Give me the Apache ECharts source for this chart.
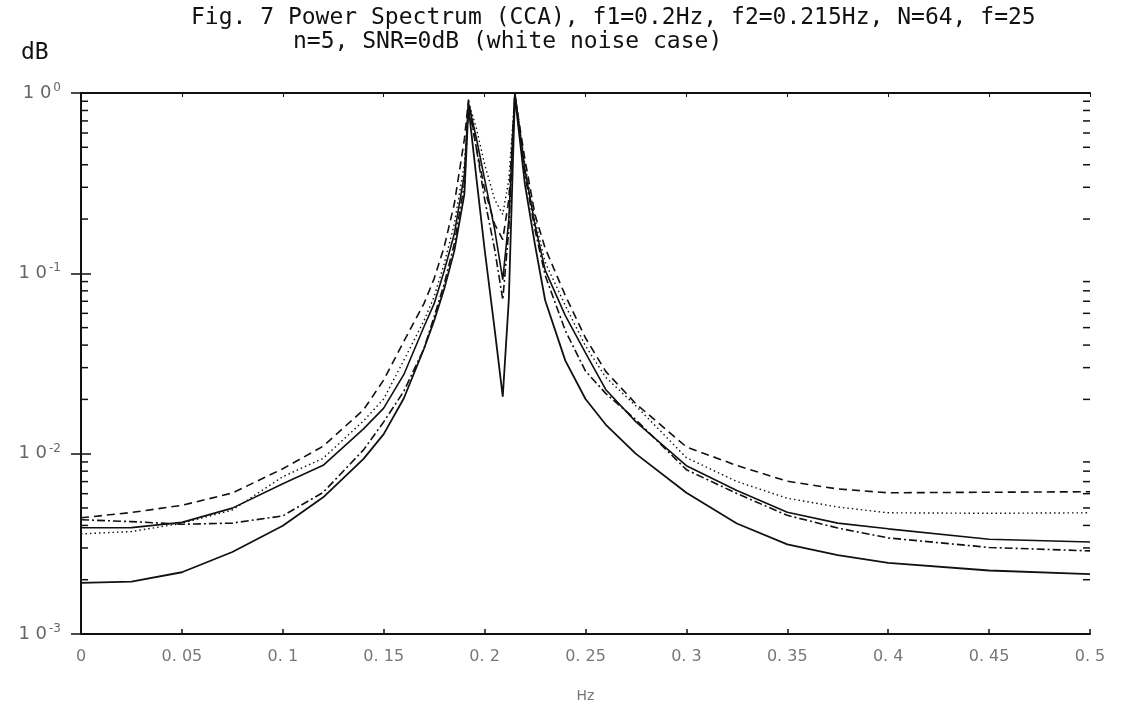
<!DOCTYPE html>
<html>
<head>
<meta charset="utf-8">
<script src="https://cdn.jsdelivr.net/npm/echarts@6/dist/echarts.min.js"></script>
<style>
html,body{margin:0;padding:0;background:#fff;}
#chart{width:1123px;height:717px;}
</style>
</head>
<body>
<div id="chart"></div>
<script>
// ---- data ----
const freq = [0,0.025,0.05,0.075,0.1,0.12,0.14,0.15,0.16,0.17,0.175,0.18,0.185,0.19,0.192,0.196,0.2,0.205,0.209,0.212,0.215,0.22,0.225,0.23,0.24,0.25,0.26,0.275,0.3,0.325,0.35,0.375,0.4,0.45,0.5];

const dashed = [0.00441,0.00472,0.00517,0.00605,0.00825,0.0110,0.0175,0.0256,0.0420,0.0681,0.0935,0.1405,0.243,0.557,0.92,0.489,0.293,0.187,0.154,0.256,0.97,0.427,0.211,0.138,0.0753,0.0438,0.0286,0.0189,0.0109,0.0086,0.00703,0.00637,0.00607,0.00611,0.00615];

const dotted = [0.00359,0.00370,0.00411,0.00487,0.00745,0.00943,0.0152,0.0201,0.0330,0.0547,0.0743,0.1131,0.188,0.405,0.90,0.632,0.403,0.257,0.212,0.331,0.98,0.400,0.198,0.1152,0.0663,0.0396,0.0265,0.0184,0.0095,0.00701,0.00566,0.00506,0.00470,0.00467,0.00470];

const solidUpper = [0.00388,0.00389,0.00416,0.00499,0.00681,0.00862,0.01373,0.0179,0.0275,0.0507,0.0679,0.1034,0.1656,0.356,0.88,0.556,0.333,0.175,0.0923,0.1985,1.0,0.375,0.1853,0.1041,0.0583,0.0362,0.0227,0.0150,0.00858,0.00625,0.00473,0.00412,0.00383,0.00335,0.00324];

const dashDot = [0.00430,0.00420,0.00406,0.00412,0.00452,0.00610,0.0105,0.0150,0.0222,0.0383,0.0575,0.0876,0.1458,0.313,0.86,0.489,0.258,0.1357,0.0714,0.1747,0.99,0.352,0.1739,0.0976,0.0481,0.0287,0.0216,0.0154,0.00815,0.00601,0.00455,0.00387,0.00341,0.00302,0.00289];

const solidLower = [0.00192,0.00195,0.00220,0.00285,0.00398,0.00573,0.00936,0.01283,0.0203,0.0383,0.0546,0.0821,0.1332,0.276,0.84,0.333,0.136,0.0488,0.0207,0.0714,0.96,0.310,0.1435,0.0709,0.0328,0.0201,0.0145,0.00997,0.00607,0.00410,0.00314,0.00274,0.00248,0.00225,0.00215];

const xTickLabels = ['0','0. 05','0. 1','0. 15','0. 2','0. 25','0. 3','0. 35','0. 4','0. 45','0. 5'];
const yTickExponents = {'1':'0','0.1':'-1','0.01':'-2','0.001':'-3'};
const minorTickValues = [0.002,0.003,0.004,0.005,0.006,0.007,0.008,0.009,
                         0.02,0.03,0.04,0.05,0.06,0.07,0.08,0.09,
                         0.2,0.3,0.4,0.5,0.6,0.7,0.8,0.9];

const titleLine1 = 'Fig. 7 Power Spectrum (CCA), f1=0.2Hz, f2=0.215Hz, N=64, f=25';
const titleLine2 = 'n=5, SNR=0dB (white noise case)';

// ---- chart ----
const ink = '#111';
const pairs = arr => freq.map((f, i) => [f, arr[i]]);
const lineSeries = (name, arr, type, width) => ({
  name, type: 'line', data: pairs(arr), symbol: 'none', smooth: false,
  lineStyle: {color: ink, width: width, type: type},
  xAxisIndex: 0, yAxisIndex: 0, z: 3
});

const chart = echarts.init(document.getElementById('chart'), null, {renderer: 'canvas'});
const monoTitle = {fontFamily: 'DejaVu Sans Mono', fontSize: 23, fontWeight: 'normal', color: ink};
const option = {
  backgroundColor: '#fff',
  animation: false,
  title: [
    {text: titleLine1, left: 186, top: 2, textStyle: monoTitle},
    {text: titleLine2, left: 288, top: 26, textStyle: monoTitle},
    {text: 'dB', left: 16, top: 37, textStyle: monoTitle}
  ],
  grid: {left: 81, right: 33, top: 93, bottom: 83, show: false},
  xAxis: [{
    type: 'value', min: 0, max: 0.5, interval: 0.05, position: 'bottom',
    name: 'Hz', nameLocation: 'middle', nameGap: 55,
    nameTextStyle: {color: '#777', fontSize: 14, fontFamily: 'DejaVu Sans'},
    axisLine: {show: true, lineStyle: {color: ink, width: 2}},
    axisTick: {show: true, inside: true, length: 5, lineStyle: {color: ink, width: 1.5}},
    axisLabel: {margin: 15, color: '#777', fontSize: 16, fontFamily: 'DejaVu Sans',
      formatter: v => xTickLabels[Math.round(v / 0.05)]},
    splitLine: {show: false}
  }, {
    type: 'value', min: 0, max: 0.5, interval: 0.05, position: 'top',
    axisLine: {show: true, lineStyle: {color: ink, width: 2}},
    axisTick: {show: true, inside: true, length: 4, lineStyle: {color: ink, width: 1}},
    axisLabel: {show: false}, splitLine: {show: false}
  }],
  yAxis: [{
    type: 'log', logBase: 10, min: 0.001, max: 1, position: 'left',
    axisLine: {show: true, lineStyle: {color: ink, width: 2}},
    axisTick: {show: true, inside: true, length: 10, lineStyle: {color: ink, width: 1.5}},
    axisLabel: {margin: 20, color: '#666', fontFamily: 'DejaVu Sans',
      formatter: v => '{b|1 0}{s|' + (yTickExponents[String(v)] || '') + '}',
      rich: {b: {fontSize: 18, color: '#666'}, s: {fontSize: 12, color: '#666', padding: [0, 0, 10, 2]}}},
    splitLine: {show: false}
  }, {
    type: 'log', logBase: 10, min: 0.001, max: 1, position: 'right',
    axisLine: {show: true, lineStyle: {color: ink, width: 2}},
    axisTick: {show: true, inside: true, length: 10, lineStyle: {color: ink, width: 1.5}},
    axisLabel: {show: false}, splitLine: {show: false}
  }],
  series: [
    lineSeries('solid upper', solidUpper, 'solid', 1.6),
    lineSeries('solid lower', solidLower, 'solid', 1.8),
    lineSeries('dashed', dashed, [8, 5], 1.6),
    lineSeries('dotted', dotted, [1.5, 3], 1.4),
    lineSeries('dash-dot', dashDot, [8, 3, 2, 3], 1.6),
    {
      name: 'minor ticks', type: 'custom', xAxisIndex: 0, yAxisIndex: 0,
      data: minorTickValues.map(v => [0, v]), encode: {x: 0, y: 1}, z: 4, silent: true,
      renderItem: (params, api) => {
        const p = api.coord([0, api.value(1)]);
        const left = params.coordSys.x;
        const right = left + params.coordSys.width;
        const st = {stroke: ink, lineWidth: 1.5};
        return {type: 'group', children: [
          {type: 'line', shape: {x1: left, y1: p[1], x2: left + 7, y2: p[1]}, style: st},
          {type: 'line', shape: {x1: right - 7, y1: p[1], x2: right, y2: p[1]}, style: st}
        ]};
      }
    }
  ]
};
chart.setOption(option);
</script>
</body>
</html>
